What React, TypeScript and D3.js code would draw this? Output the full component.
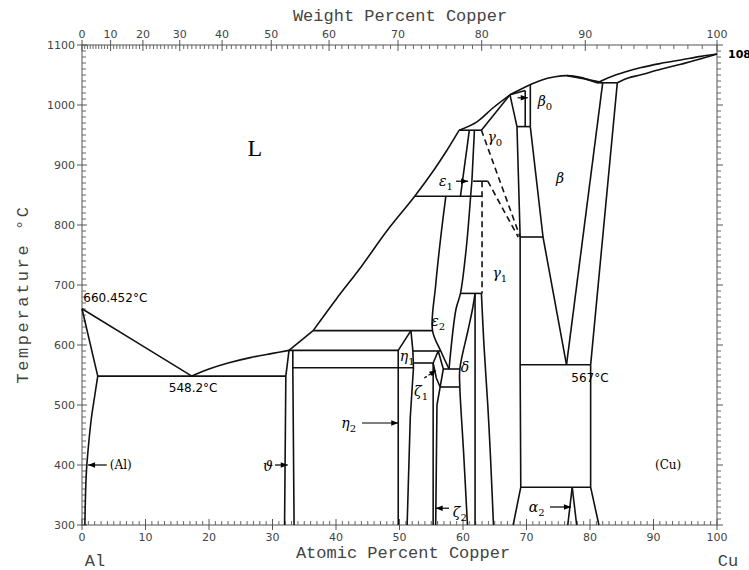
import React from "react";
import * as d3 from "d3";

type Pt = [number, number];

// axis ticks
const tempTicks = [300, 400, 500, 600, 700, 800, 900, 1000, 1100];
const atTicks = [0, 10, 20, 30, 40, 50, 60, 70, 80, 90, 100];
const wtTicks = [0, 10, 20, 30, 40, 50, 60, 70, 80, 90, 100];

// phase boundaries, [atomic % Cu, temperature °C]
const alLiquidus: Pt[] = [[0, 660.45], [8.7, 604], [17.3, 548.2]];
const alSolidus: Pt[] = [[0, 660.45], [2.48, 548.2]];
const alSolvus: Pt[] = [[2.48, 548.2], [2.0, 515], [1.5, 480], [1.0, 430], [0.7, 390], [0.55, 350], [0.45, 300]];
const eutectic548: Pt[] = [[2.48, 548.2], [32.1, 548.2]];
const liqEutTheta: Pt[] = [[17.3, 548.2], [20, 560], [23, 570], [26.5, 579], [30, 586], [32.6, 591]];
const thetaLeft: Pt[] = [[32.6, 591], [32.1, 548.2], [31.9, 300]];
const thetaRight: Pt[] = [[33.2, 591], [33.2, 562], [33.4, 300]];
const line591: Pt[] = [[32.6, 591], [49.8, 591]];
const liq591: Pt[] = [[32.6, 591], [36.4, 624]];
const line624: Pt[] = [[36.4, 624], [55.2, 624]];
const liqMain: Pt[] = [[36.4, 624], [40, 676], [44, 731], [48, 790], [52.4, 848], [55.5, 893], [57.5, 925], [59.4, 958]];
const liqGamma0: Pt[] = [[59.4, 958], [62.2, 972], [64.7, 995], [67.4, 1017]];
const liqBeta: Pt[] = [[67.4, 1017], [69.8, 1030], [72.2, 1041], [74.5, 1047], [76.4, 1049], [78.5, 1046], [81.1, 1037]];
const liqCu: Pt[] = [[81.1, 1037], [83, 1046], [85.5, 1055], [87.9, 1062], [91, 1069], [94.3, 1075], [97.5, 1081], [100, 1084.87]];
const solCu: Pt[] = [[84.3, 1037], [86, 1045], [87.9, 1050], [91, 1059], [94.3, 1068], [97.5, 1077], [100, 1084.87]];
const solBeta: Pt[] = [[76.4, 1049], [79, 1044], [82, 1037]];
const line1037: Pt[] = [[81.1, 1037], [84.3, 1037]];
const betaRight: Pt[] = [[82, 1037], [76.3, 567]];
const cuSolvus: Pt[] = [[84.3, 1037], [80.1, 567], [80.1, 363], [81.4, 300]];
const line567: Pt[] = [[69, 567], [80.1, 567]];
const line363: Pt[] = [[69.1, 363], [80.1, 363]];
const gamma1Right: Pt[] = [[68.5, 964], [69, 780], [69, 567], [69.1, 363], [67.9, 300]];
const alpha2Left: Pt[] = [[77.2, 363], [76.5, 300]];
const alpha2Right: Pt[] = [[77.2, 363], [77.9, 300]];
const betaLeft: Pt[] = [[70.6, 964], [72.6, 780], [76.3, 567]];
const line780: Pt[] = [[69, 780], [72.6, 780]];
const line964: Pt[] = [[68.5, 964], [70.6, 964]];
const gamma0Right: Pt[] = [[67.4, 1017], [68.5, 964]];
const solGamma0Beta0: Pt[] = [[67.4, 1017], [69.8, 1024]];
const beta0Left: Pt[] = [[69.8, 1024], [69.8, 964]];
const beta0Right: Pt[] = [[70.6, 1034], [70.6, 964]];
const line848: Pt[] = [[52.4, 848], [63, 848]];
const line873: Pt[] = [[61.6, 873], [63.9, 873]];
const line958: Pt[] = [[59.4, 958], [62.9, 958]];
const solGamma0: Pt[] = [[62.9, 958], [67.4, 1017]];
const eps1Left: Pt[] = [[61.0, 958], [59.6, 848]];
const eps1Right: Pt[] = [[61.8, 958], [61.4, 873], [61.2, 848]];
const eps2Left: Pt[] = [[57.3, 848], [56.5, 780], [55.7, 700], [55.2, 624], [56.5, 590], [57.8, 560]];
const eps2Right: Pt[] = [[61.2, 848], [60.5, 760], [59.6, 686], [58.9, 660], [57.8, 560]];
const line686: Pt[] = [[59.6, 686], [62.9, 686]];
const deltaLeft: Pt[] = [[61.9, 686], [61.5, 660], [60.8, 625], [59.5, 560], [59.5, 530], [60.1, 420], [60.7, 300]];
const deltaRight: Pt[] = [[61.9, 686], [61.9, 300]];
const gamma1Left: Pt[] = [[62.9, 686], [63.3, 600], [63.9, 500], [64.3, 420], [64.8, 300]];
const line560: Pt[] = [[56.9, 560], [59.5, 560]];
const line530: Pt[] = [[56.4, 530], [59.5, 530]];
const line590: Pt[] = [[52.1, 590], [56.5, 590]];
const zeta1Left: Pt[] = [[56.1, 590], [55.3, 570]];
const zeta1Right: Pt[] = [[56.1, 590], [56.9, 560], [56.4, 530]];
const zeta2Left: Pt[] = [[55.3, 570], [55.3, 300]];
const zeta2Right: Pt[] = [[55.3, 570], [55.8, 545], [56.4, 530], [55.9, 500], [55.7, 300]];
const line570: Pt[] = [[52.1, 570], [55.3, 570]];
const line562: Pt[] = [[33.2, 562], [52.2, 562]];
const etaLeft: Pt[] = [[51.8, 624], [49.8, 591], [49.8, 300]];
const etaRight: Pt[] = [[51.8, 624], [52.1, 591], [52.2, 562], [51.7, 480], [51.2, 300]];

// metastable / uncertain boundaries
const dash1: Pt[] = [[62.9, 958], [69, 780]];
const dash2: Pt[] = [[63.9, 873], [68.7, 780]];
const dash3: Pt[] = [[63, 873], [63, 686]];

const curvedLines = [alSolvus, liqEutTheta, liqMain, liqGamma0, liqBeta, liqCu, solCu, solBeta, eps2Left, eps2Right, deltaLeft, gamma1Left];
const straightLines = [
  alLiquidus, alSolidus, eutectic548, thetaLeft, thetaRight, line591, liq591, line624,
  line1037, betaRight, cuSolvus, line567, line363, gamma1Right, alpha2Left, alpha2Right,
  betaLeft, line780, line964, gamma0Right, solGamma0Beta0, beta0Left, beta0Right,
  line848, line873, line958, solGamma0, eps1Left, eps1Right, line686, deltaRight,
  line560, line530, line590, zeta1Left, zeta1Right, zeta2Left, zeta2Right, line570,
  line562, etaLeft, etaRight,
];
const dashedLines = [dash1, dash2, dash3];

// phase labels: text, subscript, [at%, °C]
const phaseLabels: { t: string; sub?: string; at: Pt }[] = [
  { t: "β", sub: "0", at: [72.9, 1007] },
  { t: "γ", sub: "0", at: [65.0, 947] },
  { t: "β", at: [75.3, 878] },
  { t: "ε", sub: "1", at: [57.3, 873] },
  { t: "γ", sub: "1", at: [65.8, 720] },
  { t: "ε", sub: "2", at: [56.1, 640] },
  { t: "η", sub: "1", at: [51.2, 581] },
  { t: "δ", at: [60.3, 564] },
  { t: "ζ", sub: "1", at: [53.4, 523] },
  { t: "η", sub: "2", at: [42.0, 470] },
  { t: "ϑ", at: [29.3, 398] },
  { t: "ζ", sub: "2", at: [59.5, 322] },
  { t: "α", sub: "2", at: [71.6, 330] },
];

// arrows: [from, to] in [at%, °C]
const arrows: Pt[][] = [
  [[3.9, 400], [0.95, 400]],
  [[30.4, 400], [32.4, 400]],
  [[44.1, 470], [49.8, 470]],
  [[57.8, 328], [55.7, 328]],
  [[73.7, 330], [77.0, 330]],
  [[58.9, 873], [60.8, 873]],
  [[68.6, 1012], [70.2, 1012]],
];
const dashedArrows: Pt[][] = [[[53.9, 545], [55.8, 558]]];

const wtToAt = (w: number) => {
  const cu = w / 63.546;
  const al = (100 - w) / 26.9815;
  return (cu / (cu + al)) * 100;
};

export default function App() {
  const x = d3.scaleLinear().domain([0, 100]).range([82, 717]);
  const y = d3.scaleLinear().domain([300, 1100]).range([525, 45]);
  const line = d3.line<Pt>().x((d) => x(d[0])).y((d) => y(d[1]));
  const curve = d3
    .line<Pt>()
    .x((d) => x(d[0]))
    .y((d) => y(d[1]))
    .curve(d3.curveCatmullRom.alpha(0.5));

  const minorTemps = d3.range(300, 1101, 10).filter((t) => t % 100 !== 0);
  const minorAt = d3.range(0, 101, 1).filter((t) => t % 10 !== 0);
  const minorWt = d3.range(1, 100, 1).filter((t) => t % 10 !== 0);

  const mono = "'Liberation Mono', 'DejaVu Sans Mono', monospace";
  const tickFont = "'DejaVu Sans', sans-serif";
  const greek = "'DejaVu Serif', serif";

  return (
    <svg width={749} height={570} style={{ position: "absolute", left: 0, top: 0, background: "#fff" }}>
      <defs>
        <marker id="ah" viewBox="0 0 10 10" refX="10" refY="5" markerWidth="9" markerHeight="7" orient="auto" markerUnits="userSpaceOnUse">
          <path d="M0,1 L10,5 L0,9 z" fill="#000" />
        </marker>
      </defs>

      {/* frame */}
      <rect x={82} y={45} width={635} height={480} fill="none" stroke="#555" strokeWidth={1} />

      {/* left/right temperature ticks */}
      {minorTemps.map((t) => (
        <g key={"mt" + t}>
          <line x1={82} x2={86} y1={y(t)} y2={y(t)} stroke="#666" />
          <line x1={717} x2={721} y1={y(t)} y2={y(t)} stroke="#666" />
        </g>
      ))}
      {tempTicks.map((t) => (
        <g key={"t" + t}>
          <line x1={77} x2={87} y1={y(t)} y2={y(t)} stroke="#555" />
          <line x1={717} x2={723} y1={y(t)} y2={y(t)} stroke="#555" />
          <text x={75} y={y(t) + 4} textAnchor="end" fontFamily={tickFont} fontSize={11} fill="#444">
            {t}
          </text>
        </g>
      ))}

      {/* bottom atomic ticks */}
      {minorAt.map((a) => (
        <line key={"ma" + a} x1={x(a)} x2={x(a)} y1={525} y2={521} stroke="#666" />
      ))}
      {atTicks.map((a) => (
        <g key={"a" + a}>
          <line x1={x(a)} x2={x(a)} y1={519} y2={530} stroke="#555" />
          <text x={x(a)} y={541} textAnchor="middle" fontFamily={tickFont} fontSize={11} fill="#444">
            {a}
          </text>
        </g>
      ))}

      {/* top weight ticks */}
      {minorWt.map((w) => (
        <line key={"mw" + w} x1={x(wtToAt(w))} x2={x(wtToAt(w))} y1={45} y2={49} stroke="#666" />
      ))}
      {wtTicks.map((w) => (
        <g key={"w" + w}>
          <line x1={x(wtToAt(w))} x2={x(wtToAt(w))} y1={40} y2={51} stroke="#555" />
          <text x={x(wtToAt(w))} y={38} textAnchor="middle" fontFamily={tickFont} fontSize={11} fill="#444">
            {w}
          </text>
        </g>
      ))}

      {/* axis titles */}
      <text x={400} y={21} textAnchor="middle" fontFamily={mono} fontSize={17} fill="#444">
        Weight Percent Copper
      </text>
      <text x={403} y={558} textAnchor="middle" fontFamily={mono} fontSize={17} fill="#444">
        Atomic Percent Copper
      </text>
      <text transform="translate(28,294) rotate(-90)" textAnchor="middle" fontFamily={mono} fontSize={17} letterSpacing={2.6} fill="#444">
        Temperature °C
      </text>
      <text x={95} y={566} textAnchor="middle" fontFamily={mono} fontSize={17} fill="#444">
        Al
      </text>
      <text x={728} y={566} textAnchor="middle" fontFamily={mono} fontSize={17} fill="#444">
        Cu
      </text>

      {/* phase boundaries */}
      <g fill="none" stroke="#111" strokeWidth={1.6} strokeLinejoin="round">
        {curvedLines.map((d, i) => (
          <path key={"c" + i} d={curve(d) || ""} />
        ))}
        {straightLines.map((d, i) => (
          <path key={"s" + i} d={line(d) || ""} />
        ))}
        {dashedLines.map((d, i) => (
          <path key={"d" + i} d={line(d) || ""} strokeDasharray="6,4" />
        ))}
      </g>

      {/* arrows */}
      <g stroke="#000" strokeWidth={1.2}>
        {arrows.map((a, i) => (
          <line key={"ar" + i} x1={x(a[0][0])} y1={y(a[0][1])} x2={x(a[1][0])} y2={y(a[1][1])} markerEnd="url(#ah)" />
        ))}
        {dashedArrows.map((a, i) => (
          <line key={"da" + i} x1={x(a[0][0])} y1={y(a[0][1])} x2={x(a[1][0])} y2={y(a[1][1])} markerEnd="url(#ah)" strokeDasharray="3,2" />
        ))}
      </g>

      {/* phase labels */}
      {phaseLabels.map((p, i) => (
        <text key={"pl" + i} x={x(p.at[0])} y={y(p.at[1]) + 5} textAnchor="middle" fontFamily={greek} fontStyle="italic" fontSize={14} fill="#000">
          {p.t}
          {p.sub && (
            <tspan dy={4} fontSize={10} fontStyle="normal">
              {p.sub}
            </tspan>
          )}
        </text>
      ))}
      <text x={x(27.2)} y={y(928) + 8} textAnchor="middle" fontFamily="'Liberation Serif', serif" fontSize={24}>
        L
      </text>
      <text x={x(6.1)} y={y(400) + 4} textAnchor="middle" fontFamily={greek} fontSize={12}>
        (Al)
      </text>
      <text x={x(92.3)} y={y(400) + 4} textAnchor="middle" fontFamily={greek} fontSize={12}>
        (Cu)
      </text>

      {/* temperature annotations */}
      <text x={x(0.2)} y={y(678) + 4} fontFamily={tickFont} fontSize={12} fill="#000">
        660.452°C
      </text>
      <text x={x(17.5)} y={y(528) + 4} textAnchor="middle" fontFamily={tickFont} fontSize={12} fill="#000">
        548.2°C
      </text>
      <text x={x(80)} y={y(545) + 4} textAnchor="middle" fontFamily={tickFont} fontSize={12} fill="#000">
        567°C
      </text>
      <text x={728} y={y(1084.87) + 4} fontFamily={tickFont} fontSize={11} fontWeight="bold" fill="#000">
        1084.87°C
      </text>
    </svg>
  );
}
